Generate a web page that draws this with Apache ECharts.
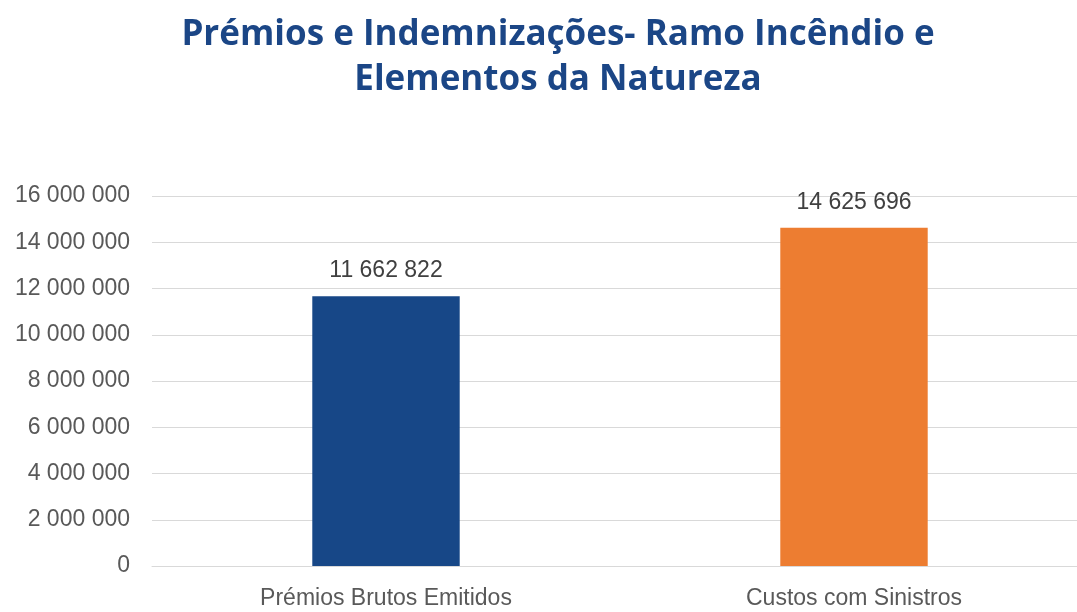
<!DOCTYPE html>
<html lang="pt">
<head>
<meta charset="UTF-8">
<title>Prémios e Indemnizações</title>
<script src="https://cdn.jsdelivr.net/npm/echarts@6/dist/echarts.min.js"></script>
<style>
  html, body { margin: 0; padding: 0; background: #fff; }
  #main { width: 1077px; height: 612px; }
</style>
</head>
<body>
<div id="main"></div>
<script>
var categories = ['Prémios Brutos Emitidos', 'Custos com Sinistros'];
var values = [11662822, 14625696];
var barColors = ['#174787', '#ED7D31'];

// numbers with space as thousands separator
function fmt(v) {
  return String(Math.round(v)).replace(/\B(?=(\d{3})+(?!\d))/g, ' ');
}

var chart = echarts.init(document.getElementById('main'));
chart.setOption({
  animation: false,
  title: {
    text: 'Prémios e Indemnizações- Ramo Incêndio e\nElementos da Natureza',
    left: 553,
    textAlign: 'center',
    top: 8,
    textStyle: {
      fontFamily: 'Open Sans',
      fontWeight: 'bold',
      fontSize: 35,
      lineHeight: 45,
      color: '#1B4686'
    }
  },
  grid: { left: 152, width: 936, top: 196, bottom: 46, outerBoundsMode: 'none' },
  xAxis: {
    type: 'category',
    data: categories,
    axisLine: { lineStyle: { color: '#d9d9d9' } },
    axisTick: { show: false },
    axisLabel: { fontFamily: 'Liberation Sans', fontSize: 23, color: '#595959', margin: 21 }
  },
  yAxis: {
    type: 'value',
    min: 0,
    max: 16000000,
    interval: 2000000,
    axisLine: { show: false },
    axisTick: { show: false },
    splitLine: { lineStyle: { color: '#d9d9d9', width: 1 } },
    axisLabel: {
      fontFamily: 'Liberation Sans', fontSize: 23, color: '#595959', margin: 22,
      formatter: fmt
    }
  },
  series: [{
    type: 'bar',
    barWidth: '31.5%',
    data: values.map(function (v, i) {
      return { value: v, itemStyle: { color: barColors[i] } };
    }),
    label: {
      show: true,
      position: 'top',
      distance: 14,
      fontFamily: 'Liberation Sans',
      fontSize: 23,
      color: '#404040',
      formatter: function (p) { return fmt(p.value); }
    }
  }]
});
</script>
</body>
</html>
